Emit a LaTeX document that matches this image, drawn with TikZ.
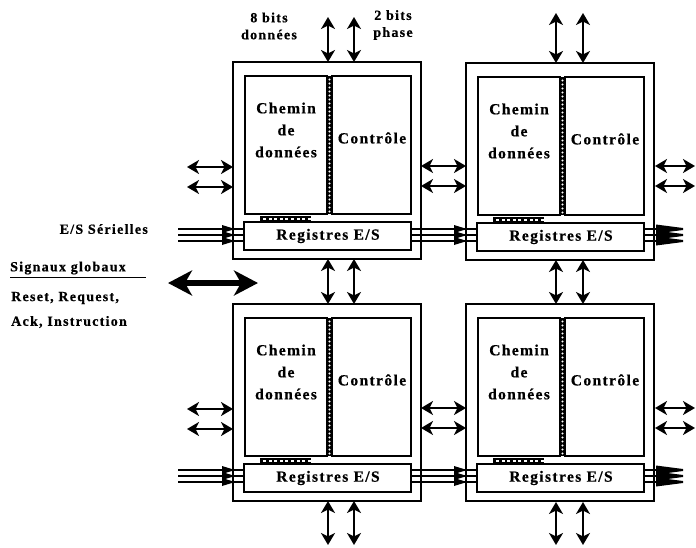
\documentclass[tikz,border=0pt]{standalone}
\usepackage{fontspec}
\setmainfont{Liberation Serif}
\newfontfamily\spc{Liberation Serif}[LetterSpace=9,FakeBold=0.6]
\usetikzlibrary{arrows.meta}
\tikzset{
  box/.style={draw, line width=2.1pt},
  dbl/.style={line width=2.3pt, {Stealth[length=12pt,width=14pt,inset=3.5pt]}-{Stealth[length=12pt,width=14pt,inset=3.5pt]}},
  bus/.style={line width=1.4pt},
  wedge/.style={fill=black},
  lab/.style={font=\spc\bfseries\fontsize{15.5}{22}\selectfont, inner sep=0pt, align=center},
  small/.style={font=\spc\bfseries\fontsize{14}{17}\selectfont, inner sep=0pt, align=center},
  big/.style={line width=5.5pt, {Stealth[length=24pt,width=25pt,inset=7pt]}-{Stealth[length=24pt,width=25pt,inset=7pt]}},
}
\newcommand\chipdraw[3]{% name, X, Y
  \draw[box] (#2,#3) rectangle (#2+188,#3+197);
  \draw[box] (#2+12,#3+14) rectangle (#2+94,#3+152);
  \draw[box] (#2+99,#3+14) rectangle (#2+178,#3+152);
  \draw[box] (#2+11,#3+160) rectangle (#2+178,#3+188);
  % dotted column
  \fill[black] (#2+94,#3+14) rectangle (#2+99,#3+152);
  \foreach \k in {0,...,33} \fill[white] (#2+96.5,#3+17.5+\k*4) circle (1.1);
  % dotted row
  \fill[black] (#2+27,#3+154) rectangle (#2+78,#3+159);
  \foreach \k in {0,...,8} \fill[white] (#2+30+\k*5.6,#3+155.8) rectangle (#2+33+\k*5.6,#3+157.6);
  \node[lab] (#1-chemin) at (#2+53,#3+68) {Chemin\\de\\données};
  \node[lab] (#1-ctrl) at (#2+139,#3+76) {Contrôle};
  \node[lab] (#1-reg) at (#2+95,#3+174) {Registres E/S};
}
% serial bus: lines from x1 to x2, wedge tip at xt
\newcommand\serbus[4]{% x1 x2 xt Y
  \foreach \dy in {167,173,179} {
    \draw[bus] (#1,#4+\dy) -- (#2,#4+\dy);
    \fill[wedge] (#3-13,#4+\dy-4) -- (#3,#4+\dy) -- (#3-13,#4+\dy+4) -- cycle;
  }
}
\begin{document}
\begin{tikzpicture}[x=1pt,y=-1pt]
\useasboundingbox (0,0) rectangle (696,547);

\chipdraw{c1}{233}{62}
\chipdraw{c2}{466}{63}
\chipdraw{c3}{233}{304}
\chipdraw{c4}{466}{304}

% vertical arrows
\foreach \x in {328,354} {
  \draw[dbl] (\x,17) -- (\x,62);
  \draw[dbl] (\x,259) -- (\x,304);
  \draw[dbl] (\x,501) -- (\x,545);
}
\foreach \x in {556,583} {
  \draw[dbl] (\x,13) -- (\x,63);
  \draw[dbl] (\x,260) -- (\x,304);
  \draw[dbl] (\x,502) -- (\x,545);
}
% horizontal arrows
\foreach \y in {62,304} {
  \draw[dbl] (187,\y+105) -- (233,\y+105);
  \draw[dbl] (187,\y+125) -- (233,\y+125);
  \draw[dbl] (421,\y+104) -- (466,\y+104);
  \draw[dbl] (421,\y+124) -- (466,\y+124);
  \draw[dbl] (655,\y+104) -- (695,\y+104);
  \draw[dbl] (655,\y+124) -- (695,\y+124);
}
% serial buses
\serbus{178}{244}{235}{62}
\serbus{411}{478}{467}{62}
\serbus{178}{244}{235}{303}
\serbus{411}{478}{467}{303}
\foreach \yy in {62,303} {
  \foreach \dy in {167,173,179} {
    \draw[bus] (644,\yy+\dy) -- (683,\yy+\dy);
    \fill[wedge] (656,\yy+\dy-4.5) -- (683,\yy+\dy-1) -- (683,\yy+\dy+1) -- (656,\yy+\dy+4.5) -- cycle;
  }
}

% labels
\node[small] (l8) at (269,26) {8 bits\\données};
\node[small] (l2) at (393,25) {2 bits\\phase};
\node[small, anchor=east] (ser) at (148,229) {E/S Sérielles};
\node[small, anchor=west] (sig) at (10,268) {Signaux globaux};
\draw[line width=1.6pt] (10,277.5) -- (146,277.5);
\node[small, anchor=west] (rst) at (11,298) {Reset, Request,};
\node[small, anchor=west] (ack) at (11,322) {Ack, Instruction};
\coordinate (bl) at (168,283);
\coordinate (br) at (258,283);
\draw[big] (bl) -- (br);
\end{tikzpicture}
\end{document}
